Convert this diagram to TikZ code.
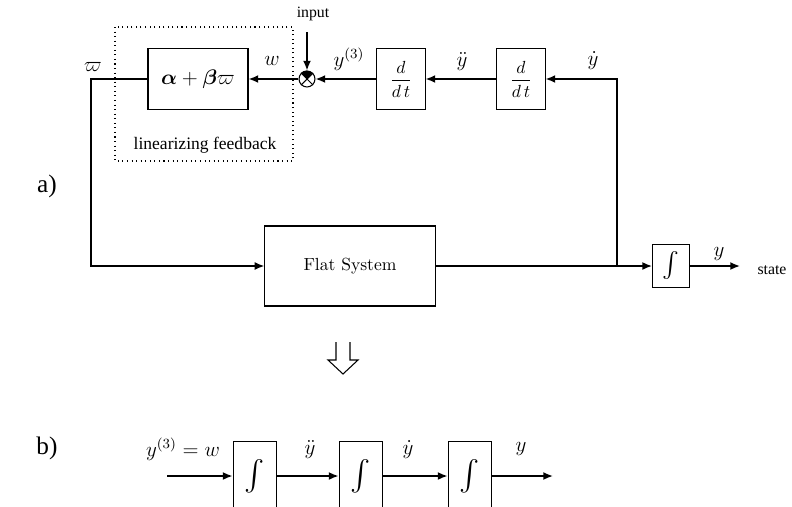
\documentclass[tikz,border=0pt]{standalone}
\usepackage{amsmath}
\usepackage{fontspec}
\newfontfamily\timesfont{Liberation Serif}
\usetikzlibrary{arrows.meta}
\tikzset{
	block/.style={draw, line width=0.6pt, inner sep=0pt},
	wire/.style={line width=0.9pt},
	lbl/.style={font=\large, inner sep=1pt},
}
\begin{document}
\begin{tikzpicture}[x=0.57pt,y=-0.57pt,>={Latex[length=5.5pt,width=4.5pt]}]
	\useasboundingbox (0,0) rectangle (792,506);

	% a) flat system with linearizing feedback
	\node (alpha) [block, font=\large, minimum width=57pt, minimum height=35pt] at (198,79) {$\boldsymbol{\alpha}+\boldsymbol{\beta}\varpi$};
	\node (sum) [draw, circle, line width=0.6pt, minimum size=9.1pt, inner sep=0pt] at (307,79) {};
	\node (d1) [block, minimum width=27.4pt, minimum height=35pt] at (401,79) {$\dfrac{d}{d\,t}$};
	\node (d2) [block, minimum width=27.4pt, minimum height=35pt] at (521,79) {$\dfrac{d}{d\,t}$};
	\node (flat) [block, minimum width=97pt, minimum height=45.6pt] at (350,266) {Flat System};
	\node (int) [block, font=\Large, minimum width=21pt, minimum height=25pt] at (671,266) {$\int$};

	\coordinate (corner) at (91,79);
	\coordinate (split) at (617,79);
	\coordinate (jn) at (617,266);
	\coordinate (top) at (307,32);
	\coordinate (out) at (740,266);

	\draw [dotted, line width=0.6pt] (115,27) rectangle (293,161);
	\node (fb) at (205,145) {\timesfont linearizing feedback};
	\node (input) at (313,14) {\timesfont\small input};
	\node (state) at (772,270) {\timesfont\small state};

	\draw [line width=0.6pt] (sum.north west) -- (sum.south east);
	\draw [line width=0.6pt] (sum.north east) -- (sum.south west);
	\fill (sum.center) -- (sum.north west) arc [start angle=135, end angle=45, radius=4.55pt] -- cycle;

	\path [wire, ->] (top) edge node {} (sum.north);
	\path [wire, ->] (sum) edge node {} (alpha);
	\path [wire, ->] (d1) edge node {} (sum);
	\path [wire, ->] (d2) edge node {} (d1);
	\draw [wire, ->] (jn) -- (split) -- (d2);
	\draw [wire, ->] (alpha) -- (corner) |- (flat);
	\path [wire, ->] (flat) edge node {} (int);
	\path [wire, ->] (int) edge node {} (out);

	\node (lvarpi) [lbl] at (93,67) {$\varpi$};
	\node (lw) [lbl] at (272,61) {$w$};
	\node (ly3) [lbl] at (349,59) {$y^{(3)}$};
	\node (lyddot) [lbl] at (462,62) {$\ddot{y}$};
	\node (lydot) [lbl] at (593,61) {$\dot{y}$};
	\node (ly) [lbl] at (719,254) {$y$};

	% hollow arrow
	\draw [line width=0.6pt] (336,342) -- (336,360) -- (328,360) -- (343,374) -- (358,360) -- (350,360) -- (350,342);

	% b) chain of integrators
	\node (i1) [block, font=\LARGE, minimum width=25pt, minimum height=39pt] at (255,476) {$\int$};
	\node (i2) [block, font=\LARGE, minimum width=25pt, minimum height=39pt] at (361,476) {$\int$};
	\node (i3) [block, font=\LARGE, minimum width=25pt, minimum height=39pt] at (470,476) {$\int$};
	\coordinate (bin) at (167,476);
	\coordinate (bout) at (553,476);

	\path [wire, ->] (bin) edge node {} (i1);
	\path [wire, ->] (i1) edge node {} (i2);
	\path [wire, ->] (i2) edge node {} (i3);
	\path [wire, ->] (i3) edge node {} (bout);

	\node (lw2) [lbl] at (183,449) {$y^{(3)}=w$};
	\node (lyddot2) [lbl] at (310,450) {$\ddot{y}$};
	\node (lydot2) [lbl] at (408,450) {$\dot{y}$};
	\node (ly2) [lbl] at (521,449) {$y$};

	\node (la) at (47,186) {\timesfont\Large a)};
	\node (lb) at (47,448) {\timesfont\Large b)};
\end{tikzpicture}
\end{document}
